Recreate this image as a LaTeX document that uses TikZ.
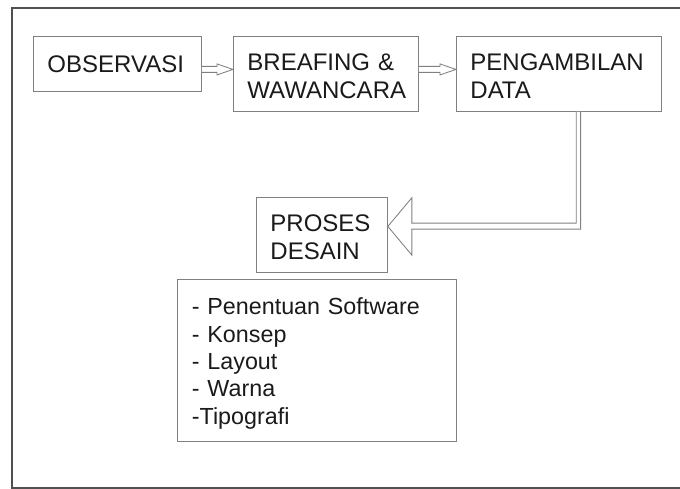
\documentclass[tikz,border=0pt]{standalone}
\usepackage{fontspec}
\setmainfont{Liberation Sans}
\usetikzlibrary{calc}
\definecolor{boxgray}{HTML}{808080}
\definecolor{framegray}{HTML}{505050}
\definecolor{inkgray}{HTML}{1A1A1A}
\def\hollowarrow(#1)(#2){\draw[arrowline] ($(#1)+(0,-3)$) -- ($(#2)+(-16,-3)$) -- ($(#2)+(-16,-5.5)$) -- (#2) -- ($(#2)+(-16,5.5)$) -- ($(#2)+(-16,3)$) -- ($(#1)+(0,3)$);}
\tikzset{
	stepbox/.style={draw=boxgray, line width=0.3mm, anchor=north west, inner xsep=14pt, inner ysep=0pt, align=left, text=inkgray, font=\fontsize{24}{27.5}\selectfont},
	arrowline/.style={line width=0.3mm, color=boxgray, fill=white}
}
\begin{document}
\begin{tikzpicture}[x=1pt, y=-1pt]
		%%%%% START %%%%%
		\useasboundingbox (0,0) rectangle (680,489);
		
		\draw[line width=0.4mm, color=framegray] (680,8) -- (12,8) -- (12,488) -- (680,488);
		
		\node[stepbox, text width=140pt, minimum height=55pt] (obs) at (33,36) {OBSERVASI};
		\node[stepbox, text width=157pt, minimum height=75pt, text height=21pt] (brf) at (233,36) {BREAFING \&\\WAWANCARA};
		\node[stepbox, text width=177pt, minimum height=75pt, text height=21pt] (peng) at (456,36) {PENGAMBILAN\\DATA};
		
		\node[stepbox, text width=103pt, minimum height=75pt, text height=21pt] (pro) at (256,197) {PROSES\\DESAIN};
		\node[stepbox, text width=250pt, minimum height=162pt, text height=23pt, inner xsep=14.5pt, font=\fontsize{23.3}{27.3}\selectfont] (list) at (177,279) {- Penentuan Software\\- Konsep\\- Layout\\- Warna\\-Tipografi};
		
		\coordinate (a1) at ($(obs.east)+(0,5.5)$);
		\coordinate (a2) at (brf.west |- a1);
		\coordinate (a3) at (brf.east |- a1);
		\coordinate (a4) at (peng.west |- a1);
		\hollowarrow(a1)(a2)
		\hollowarrow(a3)(a4)
		
		\coordinate (drop) at ($(peng.south)+(19.5,0)$);
		\coordinate (tip) at ($(pro.east)+(0,-8.5)$);
		\draw[arrowline] ($(drop)+(-2.2,0)$) |- ($(tip)+(24,-3.3)$) -- ($(tip)+(24,-28.7)$) -- (tip) -- ($(tip)+(24,28.7)$) -- ($(tip)+(24,2.7)$) -| ($(drop)+(2.2,0)$);
		
		%%%%% END %%%%%
	\end{tikzpicture}
\end{document}
